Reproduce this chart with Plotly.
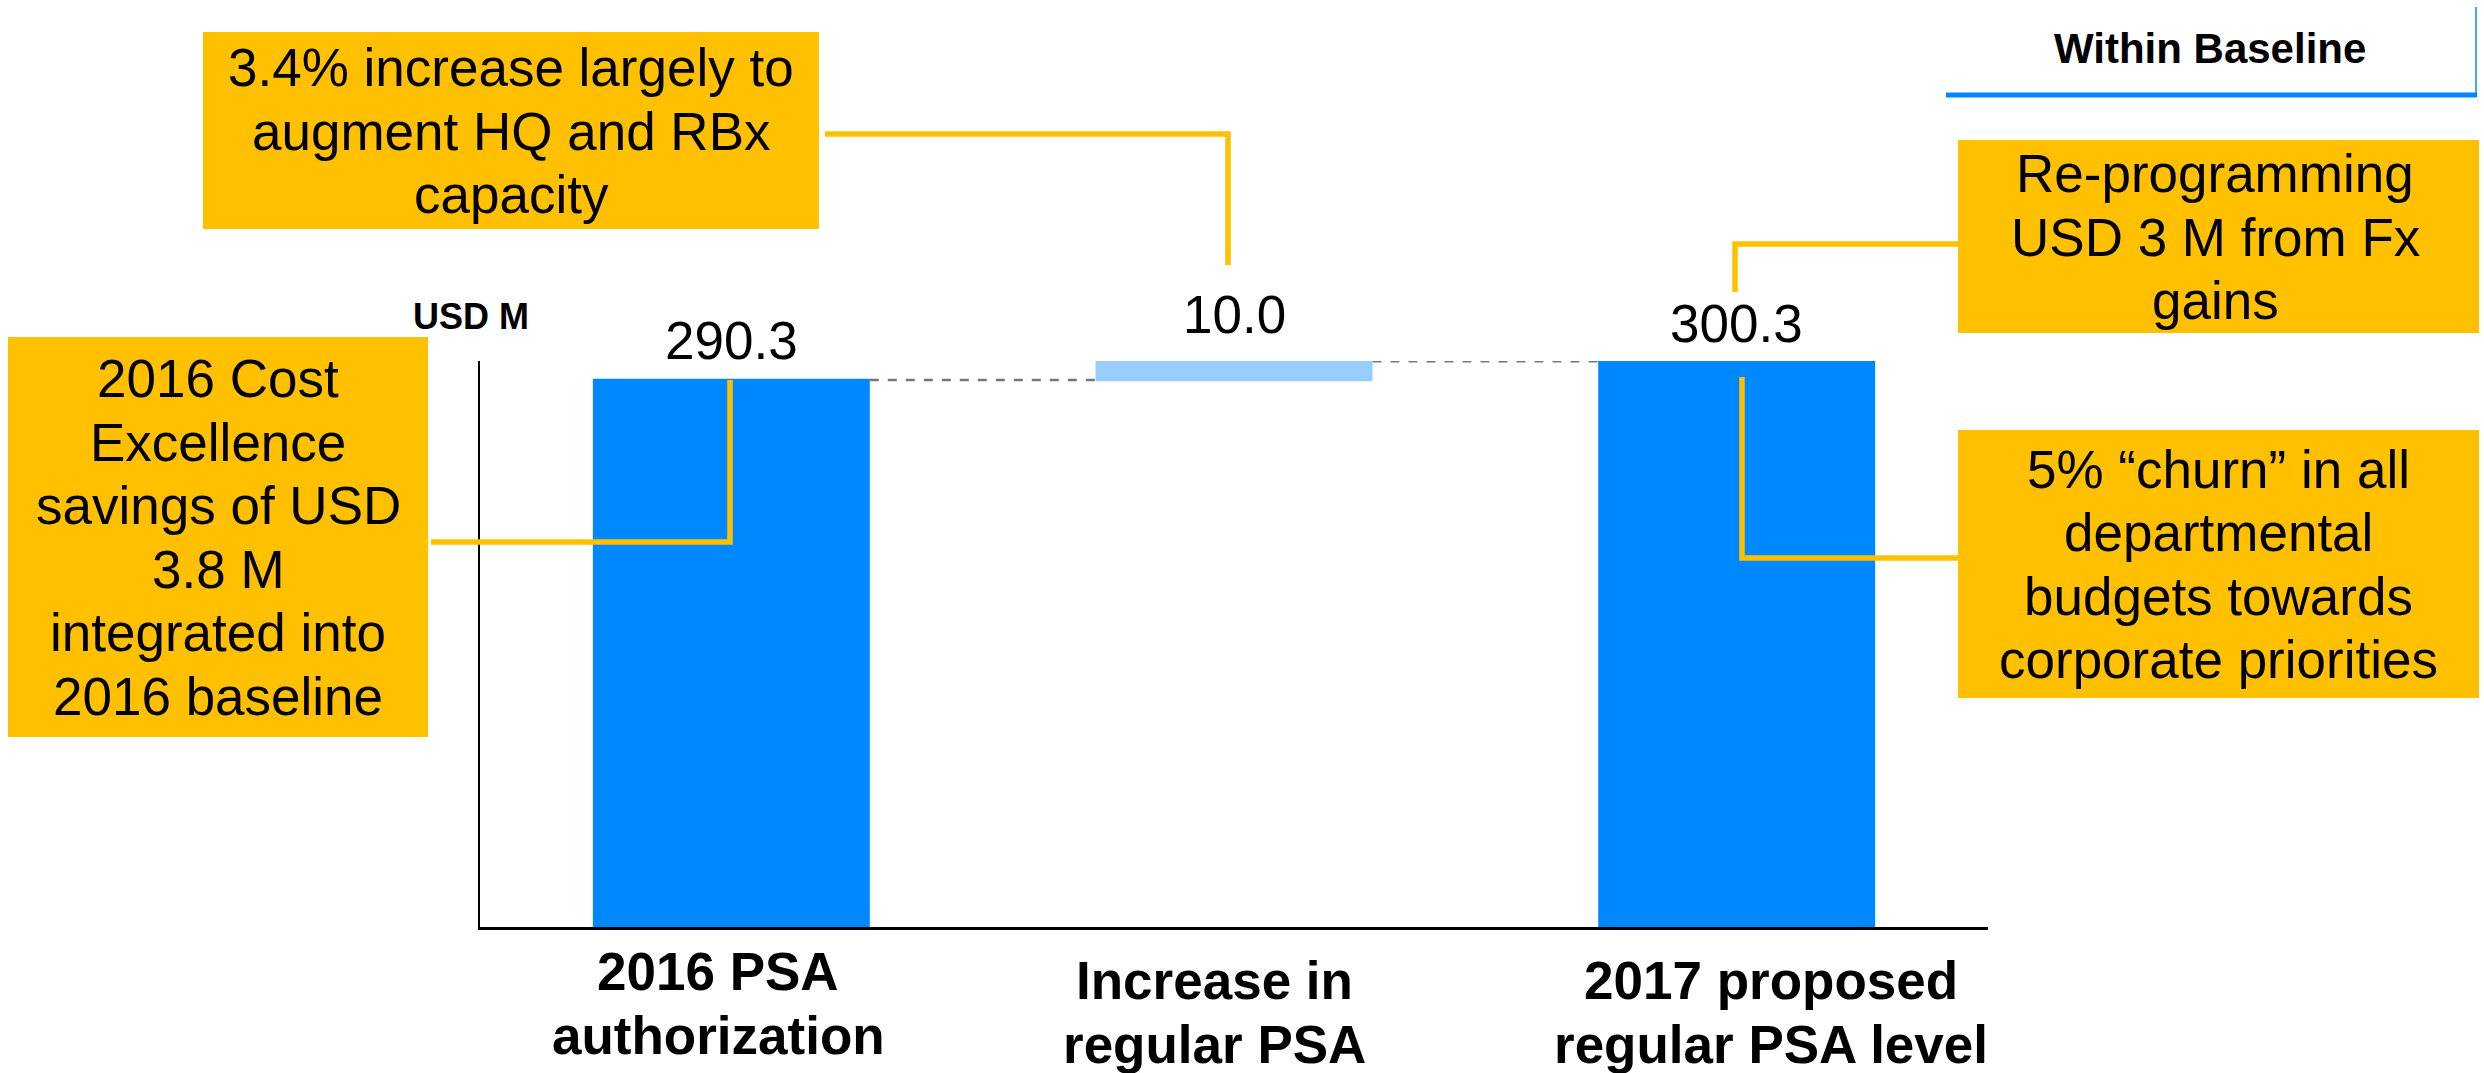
import plotly.graph_objects as go

# ---------------- data ----------------
categories = ["2016 PSA<br>authorization", "Increase in<br>regular PSA", "2017 proposed<br>regular PSA level"]
measures = ["absolute", "relative", "total"]
values = [290.3, 10.0, 300.3]
unit_label = "USD M"
legend_label = "Within Baseline"
note_hq = ["3.4% increase largely to", "augment HQ and RBx", "capacity"]
note_cost = ["2016 Cost", "Excellence", "savings of USD", "3.8 M", "integrated into", "2016 baseline"]
note_fx = ["Re-programming", "USD 3 M from Fx", "gains"]
note_churn = ["5% \u201cchurn\u201d in all", "departmental", "budgets towards", "corporate priorities"]

# ---------------- style ----------------
FONT = "Liberation Sans, Arial, sans-serif"
BLUE = "#0088FF"
LIGHT = "#99CCFF"
ORANGE = "#FFC000"
W, H = 2484, 1073
L, R, T, B = 480, 1988, 361, 927
FS = 53
LINE_STEP = 63.5


def fx(px):
    return (px - L) / (R - L)


def fy(py):
    return (B - py) / (B - T)


# running tops of the waterfall
tops = []
run = 0.0
for m, v in zip(measures, values):
    if m == "relative":
        run += v
    elif m == "absolute":
        run = v
    tops.append(run)

fig = go.Figure()
fig.add_trace(go.Waterfall(
    x=categories, y=values, measure=measures,
    width=0.551,
    textinfo="none",
    totals=dict(marker=dict(color=BLUE, line=dict(width=0))),
    increasing=dict(marker=dict(color=LIGHT, line=dict(width=0))),
    decreasing=dict(marker=dict(color=LIGHT, line=dict(width=0))),
    connector=dict(mode="between", line=dict(color="#777777", width=2.5, dash="dash")),
    hoverinfo="skip",
    showlegend=False,
))

annotations = []
shapes = []


def add_line(text, cx, baseline, size=FS, bold=False):
    t = f"<b>{text}</b>" if bold else text
    annotations.append(dict(
        text=t, xref="paper", yref="paper", x=fx(cx), y=fy(baseline - 0.3465 * size),
        xanchor="center", yanchor="middle", showarrow=False,
        font=dict(family=FONT, size=size, color="black"),
    ))


def add_box(x0, y0, x1, y1, lines, cx, first_base):
    shapes.append(dict(type="rect", xref="paper", yref="paper",
                       x0=fx(x0), x1=fx(x1), y0=fy(y1), y1=fy(y0),
                       fillcolor=ORANGE, line=dict(width=0), layer="above"))
    for k, ln in enumerate(lines):
        add_line(ln, cx, first_base + k * LINE_STEP)


def add_connector(points):
    path = "M " + " L ".join(f"{fx(px)},{fy(py)}" for px, py in points)
    shapes.append(dict(type="path", xref="paper", yref="paper", path=path,
                       line=dict(color=ORANGE, width=5.5), layer="above"))


# value labels above bars
label_shift = [8, 15, 6]
for i, (c, v, tp) in enumerate(zip(categories, values, tops)):
    annotations.append(dict(
        text=f"{v:.1f}", x=i, y=tp, xref="x", yref="y",
        xanchor="center", yanchor="bottom", yshift=label_shift[i], showarrow=False,
        font=dict(family=FONT, size=FS, color="black"),
    ))

# category labels (two bold lines each)
cat_dx = [-13, -20, 34]
cat_base = [990, 999, 999]
for i, c in enumerate(categories):
    for k, ln in enumerate(c.split("<br>")):
        annotations.append(dict(
            text=f"<b>{ln}</b>", x=i, xref="x", yref="paper",
            y=fy(cat_base[i] + k * LINE_STEP - 0.3465 * FS), xshift=cat_dx[i],
            xanchor="center", yanchor="middle", showarrow=False,
            font=dict(family=FONT, size=FS, color="black"),
        ))

# unit label and legend-like header
add_line(unit_label, 471, 329, size=36, bold=True)
add_line(legend_label, 2210, 63, size=42, bold=True)
shapes.append(dict(type="line", xref="paper", yref="paper",
                   x0=fx(1946), x1=fx(2477), y0=fy(95), y1=fy(95),
                   line=dict(color=BLUE, width=5)))
shapes.append(dict(type="line", xref="paper", yref="paper",
                   x0=fx(2476), x1=fx(2476), y0=fy(7), y1=fy(97),
                   line=dict(color=BLUE, width=1.5)))

# callout boxes
add_connector([(825, 134), (1228, 134), (1228, 265)])
add_connector([(431, 542), (730, 542), (730, 380)])
add_connector([(1958, 244), (1735, 244), (1735, 292)])
add_connector([(1742, 377), (1742, 558), (1958, 558)])
add_box(203, 32, 819, 229, note_hq, 511, 86)
add_box(8, 337, 428, 737, note_cost, 218, 397)
add_box(1958, 140, 2479, 333, note_fx, 2215, 192)
add_box(1958, 430, 2479, 698, note_churn, 2218, 487.5)

fig.update_layout(
    width=W, height=H,
    margin=dict(l=L, r=W - R, t=T, b=H - B, pad=0),
    paper_bgcolor="white", plot_bgcolor="white",
    annotations=annotations, shapes=shapes,
    xaxis=dict(type="category", range=[-0.5, 2.5], showticklabels=False, ticks="",
               showgrid=False, zeroline=False, showline=True, linecolor="black", linewidth=3),
    yaxis=dict(range=[0, 300.4], showticklabels=False, ticks="", showgrid=False,
               zeroline=False, showline=True, linecolor="black", linewidth=2),
    font=dict(family=FONT),
)

fig.write_html("out.html")
